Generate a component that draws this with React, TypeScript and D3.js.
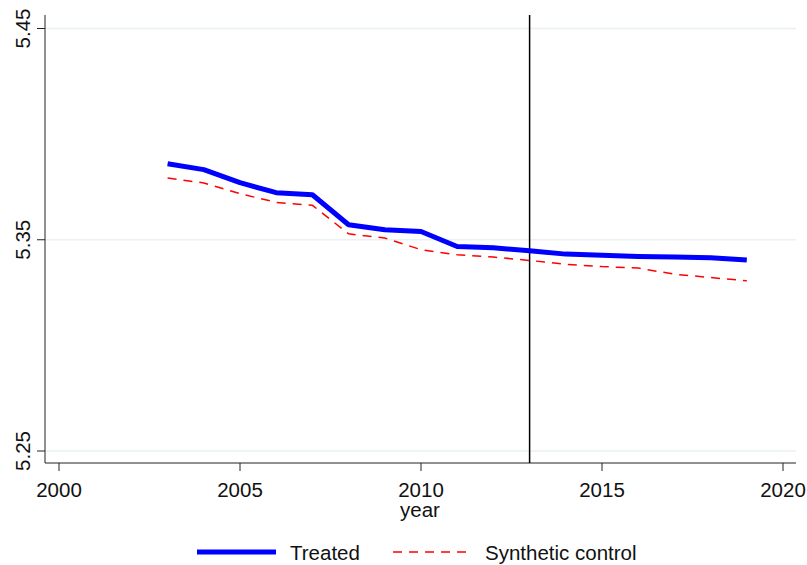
import React from "react";
import * as d3 from "d3";

const years = [2003, 2004, 2005, 2006, 2007, 2008, 2009, 2010, 2011, 2012, 2013, 2014, 2015, 2016, 2017, 2018, 2019];
const treated = [5.386, 5.3832, 5.377, 5.3723, 5.3713, 5.3571, 5.3547, 5.3539, 5.3468, 5.3462, 5.3448, 5.3432, 5.3427, 5.3421, 5.3418, 5.3415, 5.3404];
const synthetic = [5.3792, 5.3769, 5.3718, 5.3677, 5.3663, 5.3528, 5.3508, 5.3453, 5.3429, 5.3418, 5.3402, 5.3384, 5.3373, 5.3366, 5.3337, 5.3321, 5.3306];
const yTicks = [5.25, 5.35, 5.45];
const xTicks = [2000, 2005, 2010, 2015, 2020];
const treatYear = 2013;

const W = 807, H = 565;
const left = 45, right = 796, top = 15, bottom = 463;

export default function App() {
  const x = d3.scaleLinear().domain([2000, 2020]).range([59, 783]);
  const y = d3.scaleLinear().domain([5.25, 5.45]).range([451, 28.5]);
  const line = (vals: number[]) =>
    d3.line<number>().x((_, i) => x(years[i])).y((v) => y(v))(vals) || "";
  const font = "'Liberation Sans', Arial, sans-serif";
  const fs = 20.5;
  return (
    <svg width={W} height={H} style={{ position: "absolute", left: 0, top: 0, background: "#fff" }} fontFamily={font}>
      <rect x={0} y={0} width={W} height={H} fill="#fff" />
      {yTicks.map((t) => (
        <line key={"g" + t} x1={left} x2={right} y1={y(t)} y2={y(t)} stroke="#eaf1f3" strokeWidth={1.5} />
      ))}
      <line x1={left} x2={left} y1={top} y2={bottom} stroke="#222" strokeWidth={1} />
      <line x1={left} x2={right} y1={bottom} y2={bottom} stroke="#222" strokeWidth={1} />
      {yTicks.map((t) => (
        <g key={"y" + t}>
          <line x1={37} x2={left} y1={y(t)} y2={y(t)} stroke="#222" strokeWidth={1} />
          <text transform={`translate(30,${y(t)}) rotate(-90)`} textAnchor="middle" fontSize={fs} fill="#111">
            {t.toFixed(2)}
          </text>
        </g>
      ))}
      {xTicks.map((t) => (
        <g key={"x" + t}>
          <line x1={x(t)} x2={x(t)} y1={bottom} y2={bottom + 8} stroke="#222" strokeWidth={1} />
          <text x={x(t)} y={497} textAnchor="middle" fontSize={fs} fill="#111">
            {t}
          </text>
        </g>
      ))}
      <text x={420} y={517} textAnchor="middle" fontSize={fs} fill="#111">year</text>
      <line x1={x(treatYear)} x2={x(treatYear)} y1={top} y2={bottom} stroke="#000" strokeWidth={1.5} />
      <path d={line(synthetic)} fill="none" stroke="#ff0000" strokeWidth={1.5} strokeDasharray="9,7" />
      <path d={line(treated)} fill="none" stroke="#0000ff" strokeWidth={5} strokeLinejoin="round" />
      <line x1={197} x2={276} y1={552} y2={552} stroke="#0000ff" strokeWidth={5} />
      <text x={290} y={560} fontSize={fs} fill="#111">Treated</text>
      <line x1={393} x2={473} y1={552} y2={552} stroke="#ff0000" strokeWidth={1.5} strokeDasharray="9,7" />
      <text x={485} y={560} fontSize={fs} fill="#111">Synthetic control</text>
    </svg>
  );
}
